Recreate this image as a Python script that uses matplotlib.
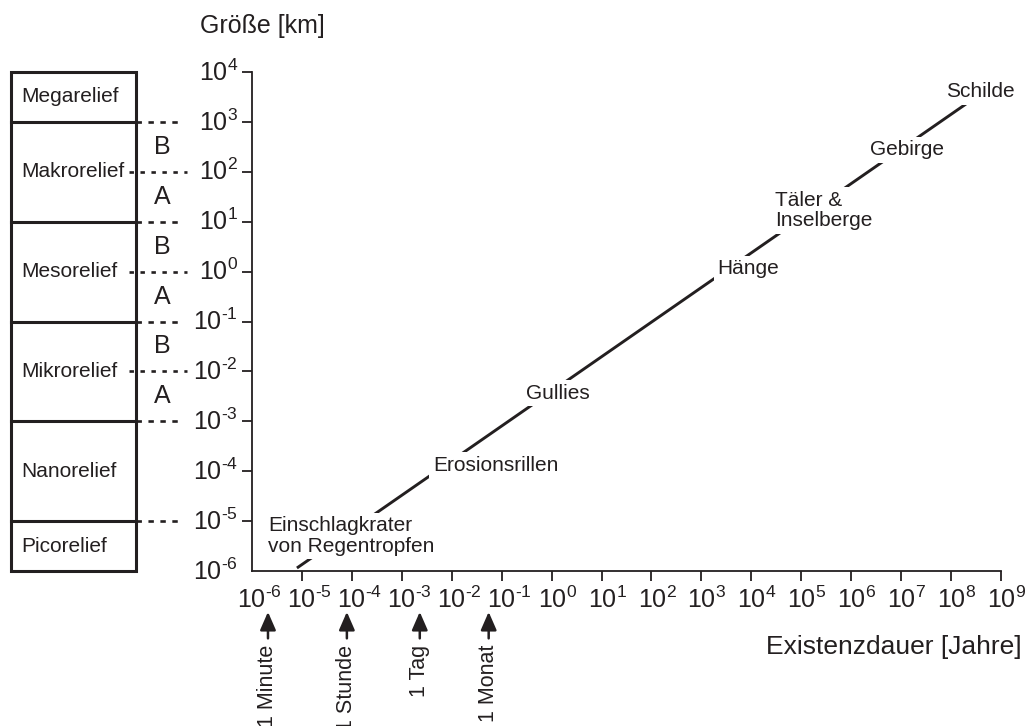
import matplotlib
matplotlib.use("Agg")
import matplotlib.pyplot as plt
from matplotlib.patches import Rectangle
from matplotlib.ticker import NullLocator
from matplotlib.transforms import ScaledTranslation

plt.rcParams["font.family"] = ["Liberation Sans", "DejaVu Sans"]
plt.rcParams["mathtext.fontset"] = "custom"
plt.rcParams["mathtext.rm"] = "Liberation Sans"
plt.rcParams["mathtext.it"] = "Liberation Sans:italic"
plt.rcParams["mathtext.bf"] = "Liberation Sans:bold"
plt.rcParams["lines.scale_dashes"] = False

INK = "#231f20"

# decades shown on the axes
time_exponents = list(range(-6, 10))
size_exponents = list(range(-6, 5))

# relief classes (top to bottom) and their size boundaries in km
relief_names = ["Megarelief", "Makrorelief", "Mesorelief", "Mikrorelief",
                "Nanorelief", "Picorelief"]
relief_bounds = [1e4, 1e3, 1e1, 1e-1, 1e-3, 1e-5, 1e-6]
split_classes = ["Makrorelief", "Mesorelief", "Mikrorelief"]  # A (lower) / B (upper)

# size-lifetime trend
trend_years = [10 ** -5.1, 10 ** 8.3]
trend_km = [10 ** -5.94, 10 ** 3.36]

# landforms along the trend (label anchors)
landform_names = ["Einschlagkrater\nvon Regentropfen", "Erosionsrillen", "Gullies",
                  "Hänge", "Täler &\nInselberge", "Gebirge", "Schilde"]
landform_years = [10 ** -5.68, 10 ** -2.38, 10 ** -0.52, 10 ** 3.32,
                  10 ** 4.48, 10 ** 6.38, 10 ** 7.9]
landform_km = [10 ** -5.3, 10 ** -3.88, 10 ** -2.44, 10 ** 0.06,
               10 ** 1.22, 10 ** 2.44, 10 ** 3.6]

# reference durations marked below the time axis
period_names = ["1 Minute", "1 Stunde", "1 Tag", "1 Monat"]
period_years = [10 ** -5.68, 10 ** -4.1, 10 ** -2.64, 10 ** -1.26]

W, H = 1025, 726
fig = plt.figure(figsize=(W / 100, H / 100), dpi=100)
ax = fig.add_axes([252 / W, 1 - 571 / H, 749 / W, 499 / H])
ax.set_xscale("log")
ax.set_yscale("log")
ax.set_xlim(10.0 ** time_exponents[0], 10.0 ** time_exponents[-1])
ax.set_ylim(10.0 ** size_exponents[0], 10.0 ** size_exponents[-1])

for side in ("top", "right"):
    ax.spines[side].set_visible(False)
for side in ("left", "bottom"):
    ax.spines[side].set_linewidth(1.3)
    ax.spines[side].set_color(INK)


def decade_label(e):
    if e < 0:
        return r"$10^{\text{-}%d}$" % (-e)
    return r"$10^{%d}$" % e


ax.set_xticks([10.0 ** e for e in time_exponents])
ax.set_xticklabels([decade_label(e) for e in time_exponents])
ax.set_yticks([10.0 ** e for e in size_exponents])
ax.set_yticklabels([decade_label(e) for e in size_exponents])
ax.xaxis.set_minor_locator(NullLocator())
ax.yaxis.set_minor_locator(NullLocator())
ax.tick_params(direction="out", length=7, width=1.3, color=INK,
               labelsize=18, labelcolor=INK)
ax.tick_params(axis="x", pad=4)
ax.tick_params(axis="y", pad=3)
ax.xaxis.get_major_ticks()[0].tick1line.set_visible(False)
ax.yaxis.get_major_ticks()[0].tick1line.set_visible(False)

# keep the "10" of each label centred on its tick
for e, lbl in zip(time_exponents, ax.get_xticklabels()):
    dx = 7.5 if e < 0 else 5.5
    lbl.set_transform(lbl.get_transform() + ScaledTranslation(dx / 100, 0, fig.dpi_scale_trans))
for lbl in ax.get_yticklabels():
    lbl.set_transform(lbl.get_transform() + ScaledTranslation(0, 2 / 100, fig.dpi_scale_trans))

# axis titles
fig.text(200 / W, 1 - 26 / H, "Größe [km]", ha="left", va="center",
         fontsize=18, color=INK)
fig.text(1022 / W, 1 - 647 / H, "Existenzdauer [Jahre]", ha="right", va="center",
         fontsize=19, color=INK)

# relief class column left of the size axis
ytr = ax.get_yaxis_transform()


def ax_x(px):
    return (px - 252) / 749


box_l, box_r = ax_x(11), ax_x(136)
ax.add_patch(Rectangle((box_l, relief_bounds[-1]), box_r - box_l,
                       relief_bounds[0] - relief_bounds[-1], transform=ytr,
                       fill=False, lw=2.2, ec=INK, clip_on=False, zorder=4))
for b in relief_bounds[1:-1]:
    ax.plot([box_l, box_r], [b, b], transform=ytr, color=INK, lw=2.2,
            clip_on=False, zorder=4)
    ax.plot([box_r, ax_x(180)], [b, b], transform=ytr, color=INK, lw=1.9,
            ls=(0, (3.9, 4.7)), clip_on=False)

for name, hi, lo in zip(relief_names, relief_bounds[:-1], relief_bounds[1:]):
    mid = (hi * lo) ** 0.5
    ax.text(ax_x(21), mid, name, transform=ytr, ha="left", va="center",
            fontsize=15, color=INK, clip_on=False)
    if name in split_classes:
        ax.plot([ax_x(129), ax_x(187)], [mid, mid], transform=ytr, color=INK,
                lw=1.9, ls=(0, (3.2, 4.7)), clip_on=False)
        ax.text(ax_x(162.5), (hi * mid) ** 0.5, "B", transform=ytr, ha="center",
                va="center", fontsize=18, color=INK, clip_on=False)
        ax.text(ax_x(162.5), (mid * lo) ** 0.5, "A", transform=ytr, ha="center",
                va="center", fontsize=18, color=INK, clip_on=False)

# trend line with landform labels sitting on it
ax.plot(trend_years, trend_km, color=INK, lw=2.1, solid_capstyle="butt", zorder=2)
for name, x, y in zip(landform_names, landform_years, landform_km):
    ax.text(x, y, name, ha="left", va="center", fontsize=15, color=INK,
            linespacing=1.1, zorder=3,
            bbox=dict(boxstyle="square,pad=0.17", fc="white", ec="none"))

# reference durations
for name, x in zip(period_names, period_years):
    ax.annotate("", xy=(x, -0.082), xytext=(x, -0.135),
                xycoords=("data", "axes fraction"),
                textcoords=("data", "axes fraction"),
                arrowprops=dict(arrowstyle="-|>,head_length=0.55,head_width=0.24",
                                mutation_scale=20, lw=1.8, color=INK,
                                shrinkA=0, shrinkB=0),
                annotation_clip=False)
    ax.text(x, -0.148, name, transform=ax.get_xaxis_transform(), rotation=90,
            ha="center", va="top", fontsize=15.5, color=INK, clip_on=False)

fig.savefig("out.png", dpi=100)
